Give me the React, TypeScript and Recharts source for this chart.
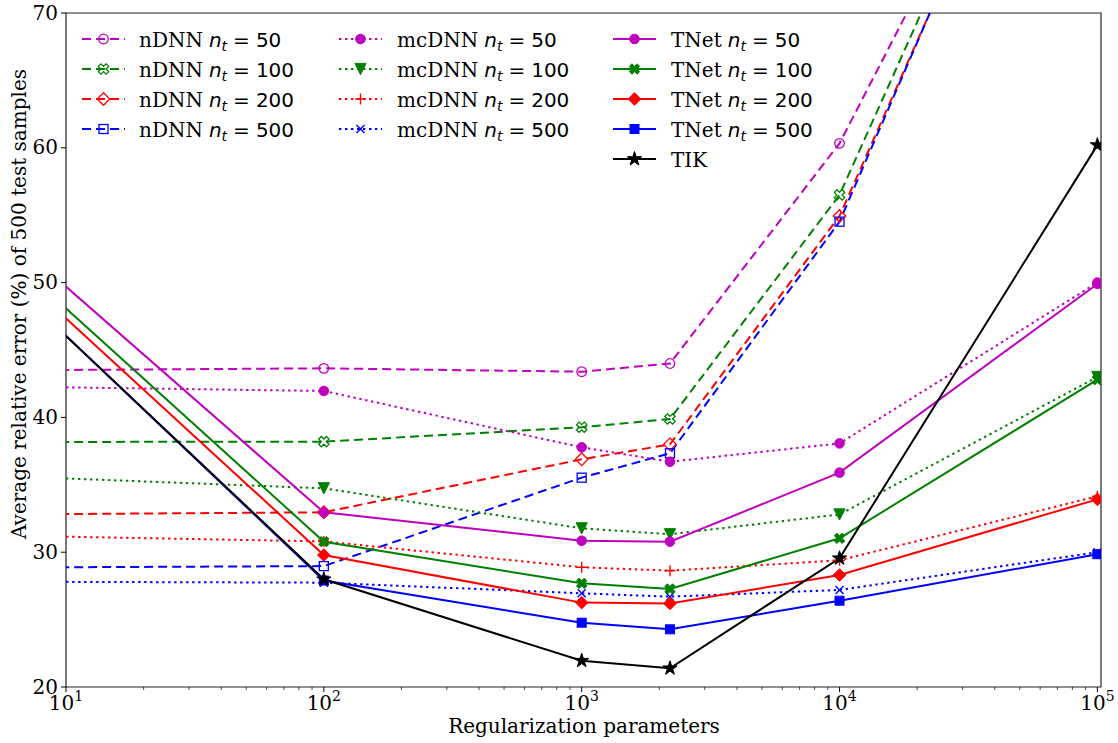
import React from 'react';
import { LineChart, Line, XAxis, YAxis, ReferenceArea } from 'recharts';

// ---------- data ----------
// x = regularization parameter (first point lies left of the visible range, clipped)
const REG_PARAMS = [1, 100, 1000, 2200, 10000, 100000];

const NDNN_50 = [43.4, 43.64, 43.39, 44.0, 60.33, 97.4];
const NDNN_100 = [38.16, 38.2, 39.27, 39.88, 56.5, 99.1];
const NDNN_200 = [32.7, 32.96, 36.89, 38.0, 54.94, 98.0];
const NDNN_500 = [28.8, 28.97, 35.53, 37.34, 54.52, 98.7];

const MCDNN_50 = [42.5, 41.96, 37.78, 36.71, 38.07, 50.0];
const MCDNN_100 = [36.2, 34.74, 31.77, 31.33, 32.8, 43.0];
const MCDNN_200 = [31.5, 30.8, 28.88, 28.63, 29.4, 34.15];
const MCDNN_500 = [27.86, 27.74, 26.95, 26.7, 27.2, 30.0];

const TNET_50 = [66.44, 32.96, 30.85, 30.78, 35.9, 49.9];
const TNET_100 = [65.4, 30.78, 27.69, 27.27, 31.03, 42.8];
const TNET_200 = [64.9, 29.79, 26.26, 26.2, 28.31, 33.92];
const TNET_500 = [64.2, 27.9, 24.77, 24.28, 26.4, 29.85];

const TIK = [64.1, 27.99, 21.95, 21.39, 29.55, 60.2];

const X_MAJOR_TICKS = [10, 100, 1000, 10000, 100000];
const X_MINOR_TICKS = [
  20, 30, 40, 50, 60, 70, 80, 90,
  200, 300, 400, 500, 600, 700, 800, 900,
  2000, 3000, 4000, 5000, 6000, 7000, 8000, 9000,
  20000, 30000, 40000, 50000, 60000, 70000, 80000, 90000,
];
const Y_TICKS = [20, 30, 40, 50, 60, 70];

const X_LABEL = 'Regularization parameters';
const Y_LABEL = 'Average relative error (%) of 500 test samples';

// ---------- styling ----------
const MAGENTA = '#bf00bf';
const GREEN = '#008000';
const RED = '#ff0000';
const BLUE = '#0000ff';
const BLACK = '#000000';
const DASHED = '9 5';
const DOTTED = '2.4 3.6';

type MarkerType =
  | 'circleOpen' | 'xOpen' | 'diamondOpen' | 'squareOpen'
  | 'circle' | 'triDown' | 'plus' | 'x'
  | 'xFilled' | 'diamond' | 'square' | 'star';

interface SeriesDef {
  key: string;
  prefix: string;
  nt: string | null;
  values: number[];
  color: string;
  dash: string | undefined;
  marker: MarkerType;
}

const SERIES: SeriesDef[] = [
  { key: 'nDNN50', prefix: 'nDNN', nt: '50', values: NDNN_50, color: MAGENTA, dash: DASHED, marker: 'circleOpen' },
  { key: 'nDNN100', prefix: 'nDNN', nt: '100', values: NDNN_100, color: GREEN, dash: DASHED, marker: 'xOpen' },
  { key: 'nDNN200', prefix: 'nDNN', nt: '200', values: NDNN_200, color: RED, dash: DASHED, marker: 'diamondOpen' },
  { key: 'nDNN500', prefix: 'nDNN', nt: '500', values: NDNN_500, color: BLUE, dash: DASHED, marker: 'squareOpen' },
  { key: 'mcDNN50', prefix: 'mcDNN', nt: '50', values: MCDNN_50, color: MAGENTA, dash: DOTTED, marker: 'circle' },
  { key: 'mcDNN100', prefix: 'mcDNN', nt: '100', values: MCDNN_100, color: GREEN, dash: DOTTED, marker: 'triDown' },
  { key: 'mcDNN200', prefix: 'mcDNN', nt: '200', values: MCDNN_200, color: RED, dash: DOTTED, marker: 'plus' },
  { key: 'mcDNN500', prefix: 'mcDNN', nt: '500', values: MCDNN_500, color: BLUE, dash: DOTTED, marker: 'x' },
  { key: 'TNet50', prefix: 'TNet', nt: '50', values: TNET_50, color: MAGENTA, dash: undefined, marker: 'circle' },
  { key: 'TNet100', prefix: 'TNet', nt: '100', values: TNET_100, color: GREEN, dash: undefined, marker: 'xFilled' },
  { key: 'TNet200', prefix: 'TNet', nt: '200', values: TNET_200, color: RED, dash: undefined, marker: 'diamond' },
  { key: 'TNet500', prefix: 'TNet', nt: '500', values: TNET_500, color: BLUE, dash: undefined, marker: 'square' },
  { key: 'TIK', prefix: 'TIK', nt: null, values: TIK, color: BLACK, dash: undefined, marker: 'star' },
];

const rows = REG_PARAMS.map((x, i) => {
  const r: Record<string, number> = { x };
  SERIES.forEach((s) => { r[s.key] = s.values[i]; });
  return r;
});

// ---------- markers ----------
function xPolygon(cx: number, cy: number, size: number): string {
  const base = [
    [-1, -3], [1, -3], [1, -1], [3, -1], [3, 1], [1, 1],
    [1, 3], [-1, 3], [-1, 1], [-3, 1], [-3, -1], [-1, -1],
  ];
  const c = Math.cos(Math.PI / 4);
  const pts = base.map(([px, py]) => {
    const ux = (px / 6) * size;
    const uy = (py / 6) * size;
    return [cx + ux * c - uy * c, cy + ux * c + uy * c];
  });
  return 'M' + pts.map((p) => `${p[0].toFixed(2)},${p[1].toFixed(2)}`).join(' L') + ' Z';
}

function starPath(cx: number, cy: number, r: number): string {
  const inner = r * 0.381966;
  const pts: string[] = [];
  for (let i = 0; i < 10; i++) {
    const rad = i % 2 === 0 ? r : inner;
    const a = -Math.PI / 2 + (i * Math.PI) / 5;
    pts.push(`${(cx + rad * Math.cos(a)).toFixed(2)},${(cy + rad * Math.sin(a)).toFixed(2)}`);
  }
  return 'M' + pts.join(' L') + ' Z';
}

function renderMarker(type: MarkerType, cx: number, cy: number, color: string, key?: string) {
  const open = { fill: 'none', stroke: color, strokeWidth: 1.3 };
  const filled = { fill: color, stroke: color, strokeWidth: 1 };
  switch (type) {
    case 'circleOpen':
      return <circle key={key} cx={cx} cy={cy} r={4.8} {...open} />;
    case 'xOpen':
      return <path key={key} d={xPolygon(cx, cy, 11)} {...open} />;
    case 'diamondOpen':
      return <path key={key} d={`M${cx},${cy - 6.3} L${cx + 6.3},${cy} L${cx},${cy + 6.3} L${cx - 6.3},${cy} Z`} {...open} />;
    case 'squareOpen':
      return <rect key={key} x={cx - 4.5} y={cy - 4.5} width={9} height={9} {...open} />;
    case 'circle':
      return <circle key={key} cx={cx} cy={cy} r={4.8} {...filled} />;
    case 'triDown':
      return <path key={key} d={`M${cx - 5.6},${cy - 5.6} L${cx + 5.6},${cy - 5.6} L${cx},${cy + 5.6} Z`} {...filled} />;
    case 'plus':
      return (
        <g key={key} stroke={color} strokeWidth={1.4}>
          <line x1={cx - 5.5} x2={cx + 5.5} y1={cy} y2={cy} />
          <line x1={cx} x2={cx} y1={cy - 5.5} y2={cy + 5.5} />
        </g>
      );
    case 'x':
      return (
        <g key={key} stroke={color} strokeWidth={1.4}>
          <line x1={cx - 4} x2={cx + 4} y1={cy - 4} y2={cy + 4} />
          <line x1={cx - 4} x2={cx + 4} y1={cy + 4} y2={cy - 4} />
        </g>
      );
    case 'xFilled':
      return <path key={key} d={xPolygon(cx, cy, 11)} {...filled} />;
    case 'diamond':
      return <path key={key} d={`M${cx},${cy - 6.3} L${cx + 6.3},${cy} L${cx},${cy + 6.3} L${cx - 6.3},${cy} Z`} {...filled} />;
    case 'square':
      return <rect key={key} x={cx - 4.5} y={cy - 4.5} width={9} height={9} {...filled} />;
    case 'star':
      return <path key={key} d={starPath(cx, cy, 7.5)} {...filled} />;
    default:
      return <g key={key} />;
  }
}

// ---------- axis ticks ----------
const XTick = (props: any) => {
  const { x, y, payload } = props;
  const v = payload.value as number;
  const major = X_MAJOR_TICKS.includes(v);
  const exp = Math.round(Math.log10(v));
  return (
    <g>
      <line x1={x} x2={x} y1={y} y2={y + (major ? 5 : 3)} stroke="#000" strokeWidth={major ? 1 : 0.7} />
      {major && (
        <text x={x} y={y + 23} textAnchor="middle" fontFamily="DejaVu Serif" fontSize={20} fill="#000">
          10<tspan dy={-9} fontSize={14}>{exp}</tspan>
        </text>
      )}
    </g>
  );
};

const YTick = (props: any) => {
  const { x, y, payload } = props;
  return (
    <g>
      <line x1={66} x2={61} y1={y} y2={y} stroke="#000" strokeWidth={1} />
      <text x={x} y={y + 6.5} textAnchor="end" fontFamily="DejaVu Serif" fontSize={20} fill="#000">
        {payload.value}
      </text>
    </g>
  );
};

// ---------- legend ----------
const LEGEND_COLS = [
  { lineX: 82, textX: 139, keys: ['nDNN50', 'nDNN100', 'nDNN200', 'nDNN500'] },
  { lineX: 339, textX: 397, keys: ['mcDNN50', 'mcDNN100', 'mcDNN200', 'mcDNN500'] },
  { lineX: 613, textX: 671, keys: ['TNet50', 'TNet100', 'TNet200', 'TNet500', 'TIK'] },
];

function LegendOverlay() {
  const rowY = (i: number) => 39 + i * 30;
  return (
    <svg width={1118} height={743} style={{ position: 'absolute', left: 0, top: 0, pointerEvents: 'none' }}>
      {LEGEND_COLS.map((col, ci) =>
        col.keys.map((k, ri) => {
          const s = SERIES.find((ss) => ss.key === k)!;
          const y = rowY(ri);
          return (
            <g key={`${ci}-${ri}`}>
              <line x1={col.lineX} x2={col.lineX + 43} y1={y} y2={y} stroke={s.color} strokeWidth={2}
                strokeDasharray={s.dash} />
              {renderMarker(s.marker, col.lineX + 21.5, y, s.color)}
              <text x={col.textX} y={y + 7.5} fontSize={20} fill="#000" fontFamily="DejaVu Serif">
                <tspan>{s.prefix}</tspan>
                {s.nt !== null && (
                  <>
                    <tspan dx={6} fontFamily="DejaVu Sans" fontStyle="italic">n</tspan>
                    <tspan dy={4} fontFamily="DejaVu Sans" fontStyle="italic" fontSize={14}>t</tspan>
                    <tspan dy={-4} dx={6} fontFamily="DejaVu Sans">=</tspan>
                    <tspan dx={6} fontFamily="DejaVu Sans">{s.nt}</tspan>
                  </>
                )}
              </text>
            </g>
          );
        })
      )}
      <text x={584} y={733} textAnchor="middle" fontFamily="DejaVu Serif" fontSize={20} fill="#000">
        {X_LABEL}
      </text>
      <text x={0} y={0} transform="translate(26,304) rotate(-90)" textAnchor="middle"
        fontFamily="DejaVu Serif" fontSize={20} fill="#000">
        {Y_LABEL}
      </text>
    </svg>
  );
}

export default function App() {
  return (
    <div style={{ position: 'absolute', left: 0, top: 0, width: 1118, height: 743, background: '#fff' }}>
      <LineChart width={1118} height={743} data={rows} margin={{ top: 13, right: 17, bottom: 0, left: 0 }}>
        <XAxis
          dataKey="x"
          type="number"
          scale="log"
          domain={[10, 103300]}
          allowDataOverflow
          ticks={[...X_MAJOR_TICKS, ...X_MINOR_TICKS]}
          interval={0}
          tick={(p: any) => <XTick {...p} />}
          tickLine={false}
          tickSize={0}
          tickMargin={0}
          axisLine={false}
          height={56}
        />
        <YAxis
          type="number"
          domain={[20, 70]}
          allowDataOverflow
          ticks={Y_TICKS}
          interval={0}
          tick={(p: any) => <YTick {...p} />}
          tickLine={false}
          tickSize={5}
          tickMargin={3}
          axisLine={false}
          width={66}
        />
        <ReferenceArea x1={10} x2={103300} y1={20} y2={70} fill="none" stroke="#222" strokeWidth={1.2}
          fillOpacity={0} ifOverflow="visible" />
        {SERIES.map((s) => (
          <Line
            key={s.key}
            dataKey={s.key}
            name={s.key}
            stroke={s.color}
            strokeWidth={2}
            strokeDasharray={s.dash}
            isAnimationActive={false}
            activeDot={false}
            dot={(p: any) => renderMarker(s.marker, p.cx, p.cy, s.color, `${s.key}-${p.index}`)}
            type="linear"
          />
        ))}
      </LineChart>
      <LegendOverlay />
    </div>
  );
}
